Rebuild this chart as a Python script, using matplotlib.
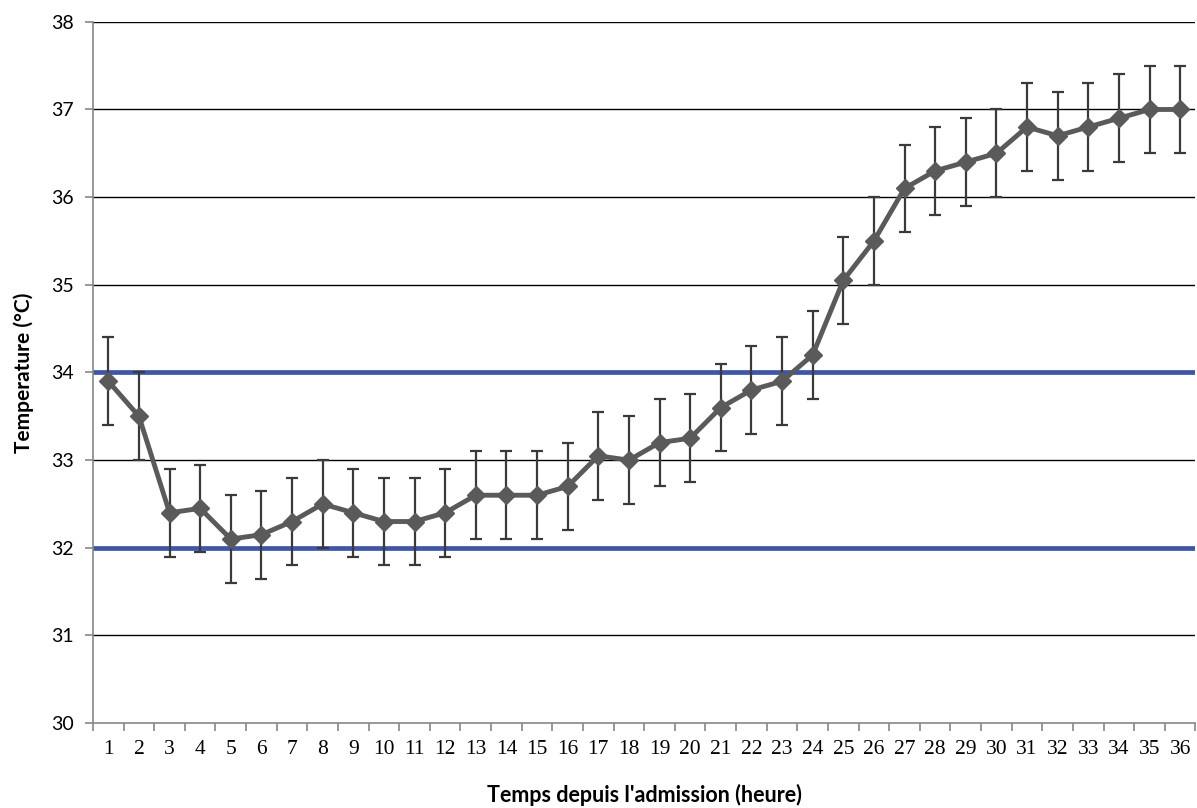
import matplotlib.pyplot as plt
import numpy as np

# Temperature after admission, mean +/- error, hourly
heures = list(range(1, 37))
temperature = [33.9, 33.5, 32.4, 32.45, 32.1, 32.15, 32.3, 32.5, 32.4, 32.3,
               32.3, 32.4, 32.6, 32.6, 32.6, 32.7, 33.05, 33.0, 33.2, 33.25,
               33.6, 33.8, 33.9, 34.2, 35.05, 35.5, 36.1, 36.3, 36.4, 36.5,
               36.8, 36.7, 36.8, 36.9, 37.0, 37.0]
erreur = [0.5] * 36
# target cooling range
cible = [32, 34]
y_ticks = list(range(30, 39))

fig = plt.figure(figsize=(11.97, 8.08), dpi=100)
ax = fig.add_axes([0.0777, 0.105, 0.921, 0.868])

# horizontal gridlines
for y in y_ticks[1:]:
    ax.axhline(y, color='black', lw=1.0, zorder=1)

# target band limits
for y in cible:
    ax.axhline(y, color='#3f55a8', lw=3.4, zorder=2)

ax.errorbar(heures, temperature, yerr=erreur, fmt='none', ecolor='#3a3a3a',
            elinewidth=1.6, capsize=4.5, capthick=1.6, zorder=3)
ax.plot(heures, temperature, color='#5a5a5a', lw=3.5, marker='D',
        markersize=9.5, markerfacecolor='#5a5a5a', markeredgecolor='#5a5a5a',
        zorder=4)

ax.set_xlim(0.5, 36.5)
ax.set_ylim(30, 38)
ax.set_yticks(y_ticks)
ax.set_yticklabels([str(v) for v in y_ticks], fontsize=14, family='Lato')

ax.set_xticks(heures)
ax.set_xticklabels([str(h) for h in heures], fontsize=15.5, family='Liberation Serif')
ax.set_xticks(np.arange(0.5, 37, 1), minor=True)
ax.tick_params(axis='x', which='major', length=0, pad=12)
ax.tick_params(axis='x', which='minor', length=6, color='#888888', width=1.2)
ax.tick_params(axis='y', length=6, color='#888888', width=1.2, pad=8)

for side in ['top', 'right']:
    ax.spines[side].set_visible(False)
for side in ['left', 'bottom']:
    ax.spines[side].set_color('#888888')
    ax.spines[side].set_linewidth(1.2)

ax.set_ylabel('Temperature (°C)', fontsize=15, fontweight='bold', family='Lato', labelpad=12)
ax.set_xlabel("Temps depuis l'admission (heure)", fontsize=15.5, fontweight='bold',
              family='Lato', labelpad=18)

fig.savefig('out.png', dpi=100)
